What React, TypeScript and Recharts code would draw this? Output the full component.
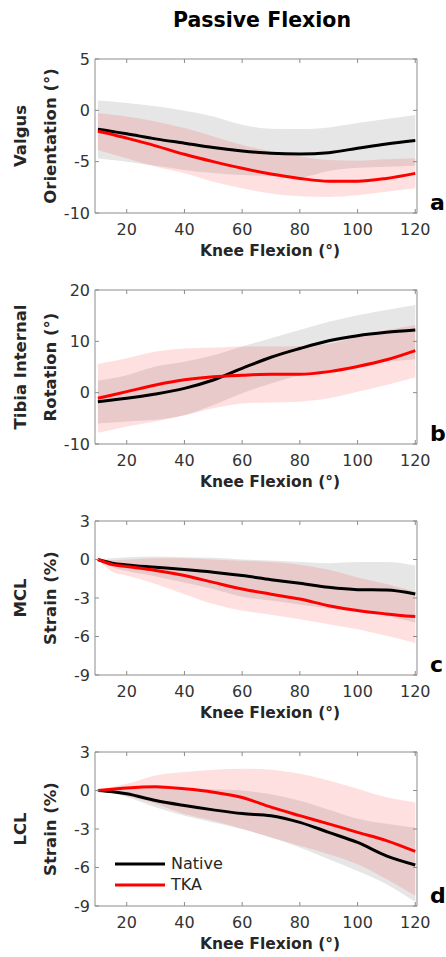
import { ComposedChart, Area, Line, XAxis, YAxis, Legend } from 'recharts';

// knee flexion angles (deg) where curves were read
const flexion = [10, 15, 20, 30, 40, 50, 60, 70, 80, 90, 100, 110, 120];
const flexionTicks = [20, 40, 60, 80, 100, 120];

// a: valgus orientation (deg)
const valgusNative = [-1.83, -2.06, -2.29, -2.78, -3.2, -3.63, -3.95, -4.18, -4.25, -4.12, -3.69, -3.27, -2.94];
const valgusNativeLow = [-4.67, -4.84, -5.0, -5.4, -5.8, -6.1, -6.3, -6.4, -6.5, -5.9, -5.6, -5.5, -5.4];
const valgusNativeHigh = [0.95, 0.85, 0.72, 0.39, -0.03, -0.59, -1.4, -1.8, -1.83, -1.67, -1.24, -0.85, -0.46];
const valgusTka = [-2.03, -2.35, -2.71, -3.46, -4.28, -5.0, -5.65, -6.2, -6.63, -6.9, -6.9, -6.63, -6.14];
const valgusTkaLow = [-3.86, -4.28, -4.67, -5.5, -6.14, -6.96, -7.6, -8.1, -8.37, -8.43, -8.27, -7.94, -7.6];
const valgusTkaHigh = [-0.26, -0.42, -0.59, -1.08, -1.73, -2.55, -3.37, -4.0, -4.5, -4.84, -4.9, -4.77, -4.67];

// b: tibia internal rotation (deg)
const rotationNative = [-1.75, -1.43, -1.1, -0.26, 0.84, 2.47, 4.74, 6.9, 8.6, 10.1, 11.1, 11.75, 12.2];
const rotationNativeLow = [-6.0, -5.8, -5.6, -5.3, -4.4, -2.4, -0.1, 1.8, 3.4, 4.4, 5.4, 6.0, 6.5];
const rotationNativeHigh = [2.3, 2.8, 3.4, 5.1, 6.0, 7.3, 9.0, 10.6, 12.2, 13.8, 15.1, 16.1, 17.1];
const rotationTka = [-1.1, -0.45, 0.2, 1.5, 2.5, 3.1, 3.4, 3.6, 3.6, 4.1, 5.1, 6.4, 8.2];
const rotationTkaLow = [-7.8, -7.2, -6.6, -5.6, -4.4, -3.05, -2.1, -1.9, -1.75, -1.1, 0.2, 1.5, 3.0];
const rotationTkaHigh = [5.6, 6.1, 6.7, 8.0, 8.6, 8.8, 9.0, 9.0, 9.1, 9.5, 10.9, 12.2, 13.2];

// c: MCL strain (%)
const mclNative = [0, -0.29, -0.42, -0.6, -0.78, -0.99, -1.25, -1.57, -1.85, -2.17, -2.35, -2.38, -2.69];
const mclNativeLow = [0, -0.6, -0.9, -1.3, -1.8, -2.3, -2.9, -3.2, -3.5, -3.8, -4.1, -4.4, -4.9];
const mclNativeHigh = [0, 0.1, 0.18, 0.23, 0.18, 0.13, 0, -0.08, -0.2, -0.29, -0.2, -0.2, -0.47];
const mclTka = [0, -0.4, -0.55, -0.85, -1.25, -1.78, -2.3, -2.7, -3.08, -3.6, -3.98, -4.24, -4.45];
const mclTkaLow = [0, -0.95, -1.25, -1.9, -2.7, -3.47, -4.0, -4.3, -4.65, -5.04, -5.43, -5.95, -6.5];
const mclTkaHigh = [0, -0.05, 0.0, 0.1, 0.1, 0.0, -0.1, -0.2, -0.4, -0.8, -1.4, -1.9, -2.5];

// d: LCL strain (%)
const lclNative = [0, -0.1, -0.26, -0.78, -1.17, -1.51, -1.8, -1.96, -2.48, -3.26, -4.05, -5.09, -5.8];
const lclNativeLow = [0, -0.2, -0.5, -1.3, -1.96, -2.5, -3.0, -3.66, -4.44, -5.35, -6.27, -7.3, -8.67];
const lclNativeHigh = [0, 0.1, 0.1, 0.2, 0.2, 0.1, 0.0, -0.3, -0.8, -1.5, -2.2, -2.6, -2.9];
const lclTka = [0, 0.1, 0.2, 0.3, 0.13, -0.13, -0.55, -1.3, -1.96, -2.6, -3.26, -3.9, -4.75];
const lclTkaLow = [0, -0.15, -0.4, -1.04, -1.83, -2.35, -3.0, -3.66, -4.3, -4.96, -5.74, -6.9, -8.2];
const lclTkaHigh = [0, 0.3, 0.52, 1.17, 1.44, 1.62, 1.7, 1.62, 1.3, 0.78, 0.13, -0.52, -0.91];

const FONT = '"DejaVu Sans", Verdana, sans-serif';
const AXIS_GRAY = '#8c8c8c';
const TICK_TEXT = '#333333';
const WIDTH = 446;
const TOP_AXIS = 20;
const PLOT_H = 154;
const BOTTOM_AXIS = 60;
const LEFT_AXIS = 95;
const RIGHT_AXIS = 29;
const X_DOMAIN: [number, number] = [9, 120.6];

interface PanelSpec {
  letter: string;
  yTitle: [string, string];
  plotTop: number;
  domain: [number, number];
  ticks: number[];
  native: number[];
  nativeLow: number[];
  nativeHigh: number[];
  tka: number[];
  tkaLow: number[];
  tkaHigh: number[];
}

const panels: PanelSpec[] = [
  {
    letter: 'a',
    yTitle: ['Valgus', 'Orientation (°)'],
    plotTop: 59,
    domain: [-10, 5],
    ticks: [-10, -5, 0, 5],
    native: valgusNative,
    nativeLow: valgusNativeLow,
    nativeHigh: valgusNativeHigh,
    tka: valgusTka,
    tkaLow: valgusTkaLow,
    tkaHigh: valgusTkaHigh,
  },
  {
    letter: 'b',
    yTitle: ['Tibia Internal', 'Rotation (°)'],
    plotTop: 290,
    domain: [-10, 20],
    ticks: [-10, 0, 10, 20],
    native: rotationNative,
    nativeLow: rotationNativeLow,
    nativeHigh: rotationNativeHigh,
    tka: rotationTka,
    tkaLow: rotationTkaLow,
    tkaHigh: rotationTkaHigh,
  },
  {
    letter: 'c',
    yTitle: ['MCL', 'Strain (%)'],
    plotTop: 521,
    domain: [-9, 3],
    ticks: [-9, -6, -3, 0, 3],
    native: mclNative,
    nativeLow: mclNativeLow,
    nativeHigh: mclNativeHigh,
    tka: mclTka,
    tkaLow: mclTkaLow,
    tkaHigh: mclTkaHigh,
  },
  {
    letter: 'd',
    yTitle: ['LCL', 'Strain (%)'],
    plotTop: 752,
    domain: [-9, 3],
    ticks: [-9, -6, -3, 0, 3],
    native: lclNative,
    nativeLow: lclNativeLow,
    nativeHigh: lclNativeHigh,
    tka: lclTka,
    tkaLow: lclTkaLow,
    tkaHigh: lclTkaHigh,
  },
];

const legendItems = [
  { name: 'Native', color: '#000000' },
  { name: 'TKA', color: '#ff0000' },
];

const emptyTick = () => <g />;

function renderLegend() {
  return (
    <div style={{ fontFamily: FONT, fontSize: 16, color: '#262626' }}>
      {legendItems.map((item) => (
        <div key={item.name} style={{ display: 'flex', alignItems: 'center', height: 21 }}>
          <svg width={50} height={6} style={{ marginRight: 6 }}>
            <line x1={0} x2={50} y1={3} y2={3} stroke={item.color} strokeWidth={3} />
          </svg>
          <span>{item.name}</span>
        </div>
      ))}
    </div>
  );
}

function KneePanel({ spec, showLegend }: { spec: PanelSpec; showLegend: boolean }) {
  const data = flexion.map((x, i) => ({
    x,
    native: spec.native[i],
    nativeBand: [spec.nativeLow[i], spec.nativeHigh[i]],
    tka: spec.tka[i],
    tkaBand: [spec.tkaLow[i], spec.tkaHigh[i]],
  }));
  const plotBottom = TOP_AXIS + PLOT_H;
  const midY = TOP_AXIS + PLOT_H / 2;

  const yTitle = () => (
    <g fontFamily={FONT} fontWeight="bold" fontSize={16.5} fill="#262626">
      {spec.yTitle.map((line, i) => (
        <text
          key={line}
          transform={`translate(${20 + i * 30}, ${midY}) rotate(-90)`}
          textAnchor="middle"
          dominantBaseline="central"
        >
          {line}
        </text>
      ))}
    </g>
  );
  const xTitle = () => (
    <text
      x={270}
      y={plotBottom + 43}
      textAnchor="middle"
      fontFamily={FONT}
      fontWeight="bold"
      fontSize={15.5}
      fill="#262626"
    >
      Knee Flexion (°)
    </text>
  );
  const letter = () => (
    <text x={430} y={plotBottom - 3} fontFamily={FONT} fontWeight="bold" fontSize={22} fill="#000">
      {spec.letter}
    </text>
  );

  return (
    <div style={{ position: 'absolute', left: 0, top: spec.plotTop - TOP_AXIS }}>
      <ComposedChart
        width={WIDTH}
        height={TOP_AXIS + PLOT_H + BOTTOM_AXIS}
        data={data}
        margin={{ top: 0, right: 0, bottom: 0, left: 0 }}
      >
        <XAxis
          xAxisId="b"
          dataKey="x"
          type="number"
          domain={X_DOMAIN}
          ticks={flexionTicks}
          allowDataOverflow
          height={BOTTOM_AXIS}
          stroke={AXIS_GRAY}
          tickSize={-4}
          tickMargin={15}
          tick={{ fill: TICK_TEXT, fontSize: 16, fontFamily: FONT }}
          label={xTitle}
        />
        <XAxis
          xAxisId="t"
          orientation="top"
          dataKey="x"
          type="number"
          domain={X_DOMAIN}
          ticks={flexionTicks}
          allowDataOverflow
          height={TOP_AXIS}
          stroke={AXIS_GRAY}
          tickSize={-4}
          tick={emptyTick}
        />
        <YAxis
          yAxisId="l"
          type="number"
          domain={spec.domain}
          ticks={spec.ticks}
          allowDataOverflow
          width={LEFT_AXIS}
          stroke={AXIS_GRAY}
          tickSize={-4}
          tickMargin={9}
          tick={{ fill: TICK_TEXT, fontSize: 16, fontFamily: FONT }}
          label={yTitle}
        />
        <YAxis
          yAxisId="r"
          orientation="right"
          type="number"
          domain={spec.domain}
          ticks={spec.ticks}
          allowDataOverflow
          width={RIGHT_AXIS}
          stroke={AXIS_GRAY}
          tickSize={-4}
          tick={emptyTick}
          label={letter}
        />
        <Area
          xAxisId="b"
          yAxisId="l"
          type="monotone"
          dataKey="nativeBand"
          stroke="none"
          fill="#808080"
          fillOpacity={0.2}
          activeDot={false}
          legendType="none"
          isAnimationActive={false}
        />
        <Area
          xAxisId="b"
          yAxisId="l"
          type="monotone"
          dataKey="tkaBand"
          stroke="none"
          fill="#ff0000"
          fillOpacity={0.12}
          activeDot={false}
          legendType="none"
          isAnimationActive={false}
        />
        <Line
          xAxisId="b"
          yAxisId="l"
          type="monotone"
          dataKey="native"
          name="Native"
          stroke="#000000"
          strokeWidth={3}
          dot={false}
          isAnimationActive={false}
        />
        <Line
          xAxisId="b"
          yAxisId="l"
          type="monotone"
          dataKey="tka"
          name="TKA"
          stroke="#ff0000"
          strokeWidth={3}
          dot={false}
          isAnimationActive={false}
        />
        {showLegend && (
          <Legend
            layout="vertical"
            align="center"
            verticalAlign="middle"
            content={renderLegend}
            wrapperStyle={{ left: 115, top: 121, width: 'auto', height: 'auto' }}
          />
        )}
      </ComposedChart>
    </div>
  );
}

export default function App() {
  return (
    <div
      style={{
        position: 'absolute',
        left: 0,
        top: 0,
        width: WIDTH,
        height: 957,
        background: '#ffffff',
        fontFamily: FONT,
      }}
    >
      <div
        style={{
          position: 'absolute',
          left: 262,
          top: 8,
          transform: 'translateX(-50%)',
          fontSize: 20.5,
          lineHeight: '24px',
          fontWeight: 'bold',
          whiteSpace: 'nowrap',
          color: '#000',
        }}
      >
        Passive Flexion
      </div>
      {panels.map((p) => (
        <KneePanel key={p.letter} spec={p} showLegend={p.letter === 'd'} />
      ))}
    </div>
  );
}
